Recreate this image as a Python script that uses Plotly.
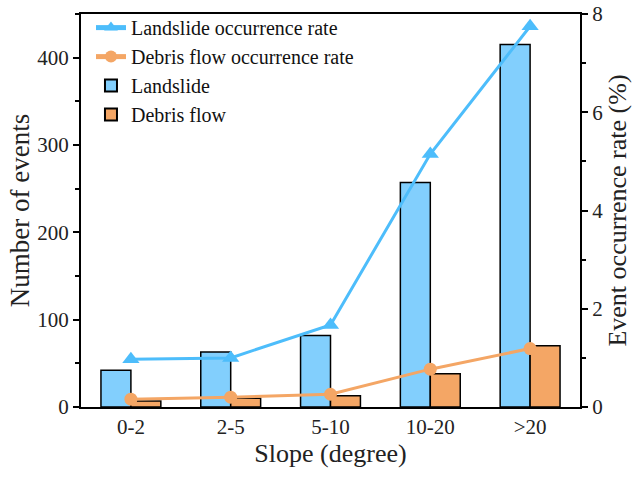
import plotly.graph_objects as go

categories = ["0-2", "2-5", "5-10", "10-20", ">20"]
landslide_count = [42, 63, 82, 257, 415]
debris_count = [7, 10, 13, 38, 70]
landslide_rate = [0.97, 1.0, 1.67, 5.15, 7.75]
debris_rate = [0.16, 0.2, 0.26, 0.77, 1.19]

font_family = "Liberation Serif"
blue_bar = "#82CFFD"
orange_bar = "#F4A665"
blue_line = "#4DBDFB"
orange_line = "#F4A665"

fig = go.Figure()
fig.add_trace(go.Scatter(x=categories, y=landslide_rate, name="Landslide occurrence rate",
                         mode="lines+markers", yaxis="y2",
                         line=dict(color=blue_line, width=3),
                         marker=dict(symbol="triangle-up", size=15, color=blue_line)))
fig.add_trace(go.Scatter(x=categories, y=debris_rate, name="Debris flow occurrence rate",
                         mode="lines+markers", yaxis="y2",
                         line=dict(color=orange_line, width=3),
                         marker=dict(symbol="circle", size=13, color=orange_line)))
fig.add_trace(go.Bar(x=categories, y=landslide_count, name="Landslide",
                     marker=dict(color=blue_bar, line=dict(color="black", width=1.5))))
fig.add_trace(go.Bar(x=categories, y=debris_count, name="Debris flow",
                     marker=dict(color=orange_bar, line=dict(color="black", width=1.5))))

axis_common = dict(showline=True, linecolor="black", linewidth=2, ticks="outside",
                   tickwidth=2, ticklen=6, tickcolor="black", showgrid=False, zeroline=False,
                   automargin=False,
                   tickfont=dict(family=font_family, size=21, color="#222"))

fig.update_layout(
    width=637, height=477,
    margin=dict(l=81, r=57, t=14, b=70, autoexpand=False),
    plot_bgcolor="white", paper_bgcolor="white",
    barmode="group", bargap=0.4, bargroupgap=0,
    font=dict(family=font_family, color="#222"),
    xaxis=dict(**axis_common, mirror=True,
               title=dict(text="Slope (degree)", font=dict(family=font_family, size=26), standoff=4)),
    yaxis=dict(**axis_common, range=[0, 450], dtick=100,
               minor=dict(dtick=50, ticks="outside", ticklen=4, tickwidth=2, tickcolor="black"),
               title=dict(text="Number of events", font=dict(family=font_family, size=27), standoff=0)),
    yaxis2=dict(**axis_common, overlaying="y", side="right", range=[0, 8], dtick=2,
                minor=dict(dtick=1, ticks="outside", ticklen=4, tickwidth=2, tickcolor="black"),
                title=dict(text="Event occurrence rate (%)", font=dict(family=font_family, size=26), standoff=4)),
    legend=dict(x=0.02, y=1.015, xanchor="left", yanchor="top", bgcolor="rgba(0,0,0,0)",
                font=dict(family=font_family, size=20, color="#111"),
                tracegroupgap=0, itemsizing="constant"),
    showlegend=True,
)
fig.update_xaxes(ticks="")

fig.write_html("out.html", config={"displayModeBar": False},
               post_script="document.body.style.margin='0';")
